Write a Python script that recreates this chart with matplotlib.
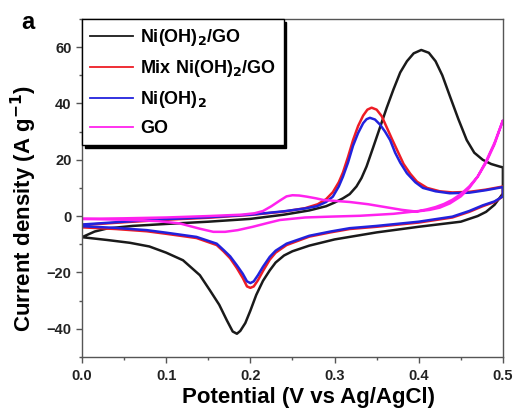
import numpy as np
import matplotlib.pyplot as plt

plt.rcParams['font.family'] = ['Liberation Sans', 'DejaVu Sans']

# Ni(OH)2/GO (black)
ngo_up_x = [0.0, 0.015, 0.03, 0.06, 0.1, 0.15, 0.2, 0.24, 0.27, 0.29, 0.3, 0.31, 0.318,
            0.326, 0.332, 0.338, 0.346, 0.354, 0.362, 0.37, 0.378, 0.386, 0.394, 0.403,
            0.412, 0.42, 0.428, 0.437, 0.447, 0.457, 0.466, 0.476, 0.486, 0.496, 0.5]
ngo_up_y = [-7.5, -5.5, -4.4, -3.5, -2.8, -2.0, -1.0, 0.5, 2.0, 3.5, 4.8, 6.3, 7.8,
            10.5, 13.5, 17.6, 24.5, 31.5, 38.5, 45.0, 51.0, 55.0, 57.8, 59.0,
            58.0, 55.0, 50.0, 42.6, 34.5, 27.0, 22.5, 20.0, 18.5, 17.6, 17.3]
ngo_dn_x = [0.5, 0.49, 0.48, 0.47, 0.45, 0.4, 0.35, 0.3, 0.27, 0.25, 0.24, 0.23, 0.223,
            0.215, 0.207, 0.2, 0.194, 0.188, 0.184, 0.179, 0.172, 0.163, 0.152, 0.14,
            0.12, 0.1, 0.08, 0.057, 0.03, 0.0]
ngo_dn_y = [8.0, 4.0, 1.5, 0.0, -2.0, -3.8, -5.8, -8.3, -10.5, -12.5, -14.0, -16.5, -19.3,
            -23.0, -28.0, -33.6, -38.0, -40.8, -41.8, -41.0, -37.0, -31.5, -26.4, -21.0,
            -15.7, -13.0, -10.8, -9.5, -8.5, -7.5]

# Mix Ni(OH)2/GO (red)
mix_up_x = [0.0, 0.05, 0.1, 0.15, 0.2, 0.24, 0.265, 0.28, 0.29, 0.298, 0.305, 0.31, 0.316,
            0.322, 0.328, 0.334, 0.339, 0.344, 0.35, 0.356, 0.362, 0.368, 0.375, 0.382,
            0.39, 0.398, 0.41, 0.425, 0.44, 0.46, 0.48, 0.5]
mix_up_y = [-3.2, -2.2, -1.3, -0.6, 0.4, 1.6, 2.8, 4.2, 6.0, 8.5, 12.0, 15.5, 21.0,
            27.0, 32.0, 35.7, 37.8, 38.5, 37.8, 35.5, 31.5, 27.5, 23.0, 18.5,
            15.0, 12.2, 10.0, 8.8, 8.4, 8.6, 9.4, 10.5]
mix_dn_x = [0.5, 0.49, 0.476, 0.46, 0.44, 0.4, 0.35, 0.318, 0.295, 0.27, 0.243, 0.23,
            0.223, 0.215, 0.209, 0.204, 0.2, 0.196, 0.191, 0.184, 0.176, 0.168, 0.16,
            0.136, 0.1, 0.077, 0.04, 0.0]
mix_dn_y = [7.0, 5.0, 3.5, 1.5, -0.5, -2.3, -3.8, -4.6, -5.8, -7.3, -10.3, -13.0,
            -15.5, -19.5, -22.8, -25.0, -25.5, -25.0, -22.0, -18.5, -15.0, -12.5, -10.3,
            -7.8, -6.3, -5.4, -4.6, -4.0]

# Ni(OH)2 (blue)
nio_up_x = [0.0, 0.05, 0.1, 0.15, 0.2, 0.24, 0.265, 0.279, 0.29, 0.298, 0.305, 0.31, 0.316,
            0.322, 0.328, 0.334, 0.338, 0.342, 0.348, 0.354, 0.36, 0.366, 0.372, 0.378,
            0.386, 0.396, 0.405, 0.42, 0.437, 0.46, 0.48, 0.5]
nio_up_y = [-3.0, -2.0, -1.1, -0.4, 0.5, 1.7, 2.7, 3.5, 5.0, 6.9, 10.5, 14.0, 19.0,
            25.0, 29.5, 33.0, 34.4, 34.9, 34.3, 32.5, 30.0, 27.0, 22.5, 19.0,
            15.2, 12.0, 10.0, 8.8, 8.1, 8.3, 9.2, 10.3]
nio_dn_x = [0.5, 0.49, 0.476, 0.46, 0.44, 0.4, 0.35, 0.318, 0.295, 0.27, 0.243, 0.23,
            0.223, 0.215, 0.209, 0.204, 0.2, 0.196, 0.191, 0.184, 0.176, 0.168, 0.16,
            0.136, 0.1, 0.077, 0.04, 0.0]
nio_dn_y = [7.0, 5.2, 3.8, 1.8, -0.2, -2.0, -3.5, -4.3, -5.5, -7.0, -9.8, -12.3,
            -14.5, -18.0, -21.0, -23.2, -23.8, -23.2, -20.5, -17.5, -14.3, -12.0, -9.8,
            -7.4, -5.9, -5.0, -4.2, -3.6]

# GO (magenta)
go_up_x = [0.0, 0.05, 0.1, 0.15, 0.19, 0.205, 0.215, 0.225, 0.235, 0.243, 0.25, 0.258,
           0.267, 0.278, 0.287, 0.3, 0.318, 0.34, 0.36, 0.38, 0.397, 0.413, 0.425,
           0.437, 0.45, 0.46, 0.47, 0.48, 0.49, 0.5]
go_up_y = [-1.0, -0.8, -0.5, 0.0, 0.5, 1.0, 1.8, 3.5, 5.5, 7.0, 7.4, 7.3,
           6.9, 6.3, 5.7, 5.4, 5.0, 4.2, 3.2, 2.2, 1.6, 2.2, 3.0,
           4.5, 7.0, 10.0, 14.0, 19.5, 26.0, 34.0]
go_dn_x = [0.5, 0.49, 0.48, 0.47, 0.46, 0.45, 0.44, 0.43, 0.42, 0.41, 0.4, 0.37,
           0.33, 0.295, 0.265, 0.235, 0.22, 0.203, 0.185, 0.17, 0.156, 0.14, 0.116,
           0.09, 0.05, 0.0]
go_dn_y = [34.0, 25.5, 19.0, 14.0, 10.5, 7.8, 5.8, 4.3, 3.2, 2.4, 1.8, 0.8,
           0.1, -0.2, -0.5, -1.4, -2.5, -3.8, -5.0, -5.6, -5.6, -4.5, -2.6,
           -1.8, -1.3, -1.0]

series = [
    ('Ni(OH)$_\\mathbf{2}$/GO', '#1a1a1a', ngo_up_x + ngo_dn_x, ngo_up_y + ngo_dn_y),
    ('Mix Ni(OH)$_\\mathbf{2}$/GO', '#ee1c25', mix_up_x + mix_dn_x, mix_up_y + mix_dn_y),
    ('Ni(OH)$_\\mathbf{2}$', '#2222dd', nio_up_x + nio_dn_x, nio_up_y + nio_dn_y),
    ('GO', '#ff22ee', go_up_x + go_dn_x, go_up_y + go_dn_y),
]

fig = plt.figure(figsize=(5.19, 4.13), dpi=100)
ax = fig.add_axes([0.158, 0.136, 0.811, 0.818])

for label, color, xs, ys in series:
    ax.plot(xs, ys, color=color, lw=1.8, label=label)

ax.set_xlim(0, 0.5)
ax.set_ylim(-50, 70)
ax.set_xticks([0.0, 0.1, 0.2, 0.3, 0.4, 0.5])
ax.set_xticklabels(['0.0', '0.1', '0.2', '0.3', '0.4', '0.5'])
ax.set_xticks(np.arange(0.05, 0.5, 0.1), minor=True)
ax.set_yticks([-40, -20, 0, 20, 40, 60])
ax.set_yticks([-50, -30, -10, 10, 30, 50, 70], minor=True)

for s in ax.spines.values():
    s.set_color('#555555')
    s.set_linewidth(1.0)
ax.tick_params(which='both', direction='out', color='#555555', width=1.0)
ax.tick_params(which='major', length=4, labelsize=10.5, labelcolor='#222222')
ax.tick_params(axis='x', which='major', pad=5)
ax.tick_params(which='minor', length=2.5)
for t in ax.get_xticklabels() + ax.get_yticklabels():
    t.set_fontweight('bold')

ax.set_xlabel('Potential (V vs Ag/AgCl)', fontsize=16, fontweight='bold')
ax.set_ylabel('Current density (A g$^{\\mathbf{-1}}$)', fontsize=16, fontweight='bold')
ax.xaxis.set_label_coords(0.539, -0.088)
ax.yaxis.set_label_coords(-0.102, 0.44)

leg = ax.legend(loc='upper left', bbox_to_anchor=(0.0, 1.0), borderaxespad=0.0,
                prop={'size': 13, 'weight': 'bold'}, handlelength=2.4, handletextpad=0.35,
                labelspacing=0.55, borderpad=0.45,
                fancybox=False, edgecolor='black', framealpha=1,
                shadow={'color': 'black', 'alpha': 1})
leg.get_frame().set_linewidth(1.0)
for line in leg.get_lines():
    line.set_linewidth(1.3)

fig.text(0.054, 0.945, 'a', fontsize=17, fontweight='bold', ha='center', va='center')

fig.savefig('out.png', dpi=100)
